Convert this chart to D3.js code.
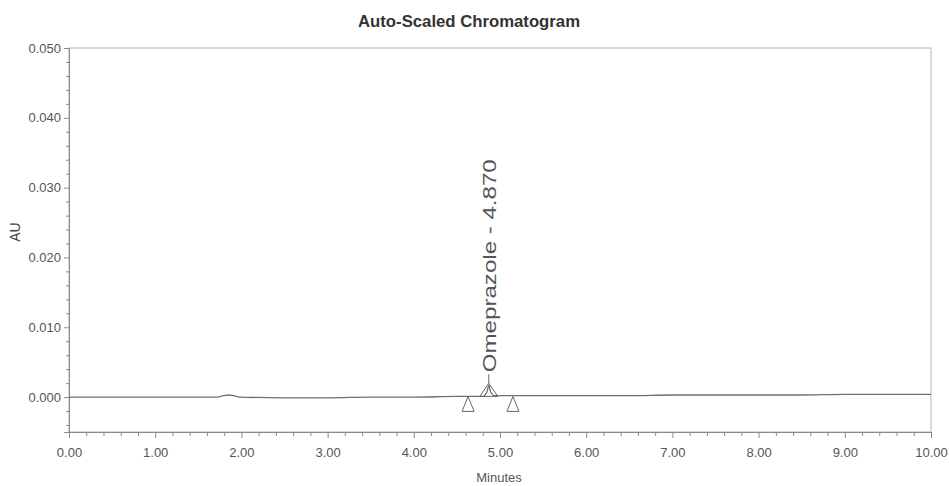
<!DOCTYPE html>
<html>
<head>
<meta charset="utf-8">
<script src="https://cdn.jsdelivr.net/npm/d3@7"></script>
<style>
  html, body { margin: 0; padding: 0; background: #fff; }
  svg text { font-family: "Liberation Sans Narrow", "Arial Narrow", "Liberation Sans", Arial, sans-serif; }
</style>
</head>
<body>
<svg id="chart" width="949" height="486"></svg>
<script>
// Detector trace (minutes, AU)
const times = [0, 0.5, 1.0, 1.5, 1.72, 1.79, 1.85, 1.91, 1.98, 2.5, 3.0, 3.5, 4.0, 4.5, 4.63,
               4.80, 4.85, 4.87, 4.89, 4.94, 5.15, 5.5, 6.0, 6.5, 7.0, 7.5, 8.0, 8.5, 9.0, 9.5, 10.0];
const absorbance = [0.0000, 0.0000, 0.0000, 0.0000, 0.0000, 0.0002, 0.0003, 0.0002, 0.0000, -0.0001, -0.0001,
                    0.0000, 0.0000, 0.0001, 0.0001, 0.0001, 0.0008, 0.0017, 0.0008, 0.0002, 0.0002, 0.0002,
                    0.0002, 0.0002, 0.0003, 0.0003, 0.0003, 0.0003, 0.0004, 0.0004, 0.0004];

// Integrated peak: name, retention time, apex height, start and end times
const peakNames = ["Omeprazole"];
const peakTimes = [4.870];
const peakHeights = [0.0017];
const peakStarts = [4.63];
const peakEnds = [5.15];
const peakBaseline = [0.0001];

// Axis ticks
const xTicks = [0, 1, 2, 3, 4, 5, 6, 7, 8, 9, 10];
const yTicks = [0.000, 0.010, 0.020, 0.030, 0.040, 0.050];

const svg = d3.select("#chart");
const plotLeft = 69, plotRight = 931, plotTop = 48, plotBottom = 432;

const x = d3.scaleLinear().domain([0, 10]).range([plotLeft, plotRight]);
const y = d3.scaleLinear().domain([-0.005, 0.050]).range([plotBottom, plotTop]);

const axisColor = "#8a8a8a";
const textColor = "#555";

// Title
svg.append("text")
  .attr("x", 469).attr("y", 27)
  .attr("text-anchor", "middle")
  .attr("font-size", 16).attr("font-weight", "bold")
  .attr("fill", "#333")
  .style("font-family", "'Liberation Sans', Arial, sans-serif")
  .attr("textLength", 222).attr("lengthAdjust", "spacingAndGlyphs")
  .text("Auto-Scaled Chromatogram");

// Plot frame
svg.append("rect")
  .attr("x", plotLeft).attr("y", plotTop)
  .attr("width", plotRight - plotLeft).attr("height", plotBottom - plotTop)
  .attr("fill", "none").attr("stroke", "#b5b5b5").attr("stroke-width", 1);

// Y axis
const yAxis = d3.axisLeft(y).tickValues(yTicks).tickFormat(d3.format(".3f")).tickSize(5).tickPadding(3);
svg.append("g").attr("transform", `translate(${plotLeft},0)`).call(yAxis);
const yMinor = d3.axisLeft(y)
  .tickValues(d3.range(-0.004, 0.0501, 0.002).filter(v => Math.abs(Math.round(v * 1000) % 10) !== 0))
  .tickSize(3).tickFormat("");
svg.append("g").attr("transform", `translate(${plotLeft},0)`).call(yMinor).select(".domain").remove();

// X axis
const xAxis = d3.axisBottom(x).tickValues(xTicks).tickFormat(d3.format(".2f")).tickSize(6).tickPadding(10);
svg.append("g").attr("transform", `translate(0,${plotBottom})`).call(xAxis);
const xMinor = d3.axisBottom(x)
  .tickValues(d3.range(0.2, 10, 0.2).filter(v => Math.abs(v - Math.round(v)) > 1e-6))
  .tickSize(4).tickFormat("");
svg.append("g").attr("transform", `translate(0,${plotBottom})`).call(xMinor).select(".domain").remove();

svg.selectAll(".domain").attr("stroke", axisColor);
svg.selectAll(".tick line").attr("stroke", axisColor);
svg.selectAll(".tick text").attr("fill", textColor).attr("font-size", 13)
  .style("font-family", "'Liberation Sans Narrow', 'Arial Narrow', sans-serif");

// Axis titles
svg.append("text")
  .attr("x", 499).attr("y", 482)
  .attr("text-anchor", "middle").attr("font-size", 13).attr("fill", textColor)
  .text("Minutes");
svg.append("text")
  .attr("transform", `translate(20,232) rotate(-90)`)
  .attr("text-anchor", "middle").attr("font-size", 14).attr("fill", "#444")
  .style("font-family", "'Liberation Sans', Arial, sans-serif")
  .text("AU");

// Trace
const trace = times.map((t, i) => [t, absorbance[i]]);
svg.append("path")
  .datum(trace)
  .attr("fill", "none").attr("stroke", "#6f6f6f").attr("stroke-width", 1.3)
  .attr("d", d3.line().x(d => x(d[0])).y(d => y(d[1])).curve(d3.curveMonotoneX));

// Peak markers: open triangles at start/end (below baseline) and apex
const tri = (cx, yTop, w, h) => `M${cx},${yTop} L${cx + w / 2},${yTop + h} L${cx - w / 2},${yTop + h} Z`;
peakNames.forEach((name, i) => {
  const g = svg.append("g").attr("fill", "none").attr("stroke", "#666").attr("stroke-width", 1);
  const yb = y(peakBaseline[i]);
  g.append("path").attr("d", tri(x(peakStarts[i]), yb, 12, 15));
  g.append("path").attr("d", tri(x(peakEnds[i]), yb, 12, 15));
  const ya = y(peakHeights[i]);
  g.append("path").attr("d", tri(x(peakTimes[i]), ya - 2, 18, yb - ya + 2));
  // leader line to label
  g.append("line")
    .attr("x1", x(peakTimes[i])).attr("x2", x(peakTimes[i]))
    .attr("y1", ya - 11).attr("y2", ya - 2);
  svg.append("text")
    .attr("transform", `translate(${x(peakTimes[i]) + 7},${ya - 13}) rotate(-90)`)
    .attr("text-anchor", "start").attr("font-size", 19).attr("fill", "#555")
    .style("font-family", "'Liberation Sans', Arial, sans-serif")
    .attr("textLength", 213).attr("lengthAdjust", "spacingAndGlyphs")
    .text(`${name} - ${peakTimes[i].toFixed(3)}`);
});
</script>
</body>
</html>
